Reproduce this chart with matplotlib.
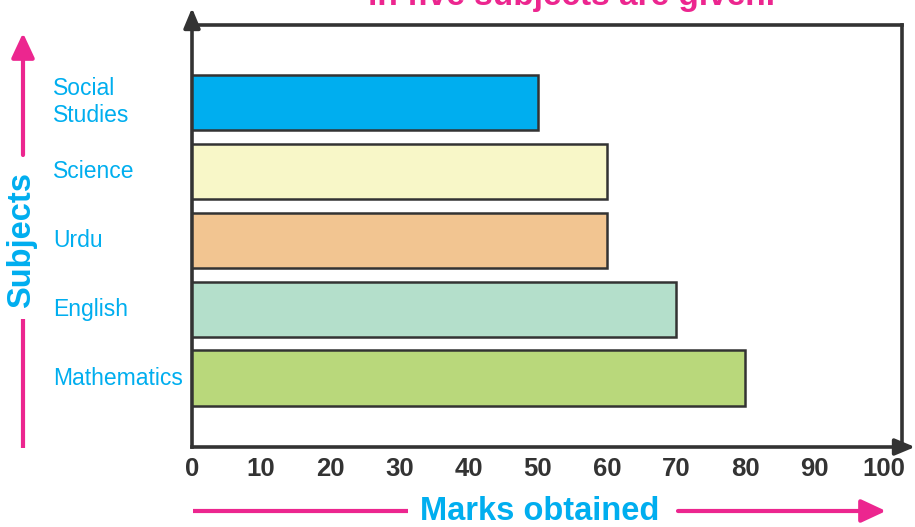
import matplotlib
matplotlib.use("Agg")
import matplotlib.pyplot as plt
from matplotlib import font_manager
from matplotlib.patches import FancyArrowPatch
from matplotlib.transforms import blended_transform_factory

subjects = ["Mathematics", "English", "Urdu", "Science", "Social\nStudies"]
marks = [80, 70, 60, 60, 50]
bar_colors = ["#B9D87B", "#B4DFCB", "#F2C591", "#F8F7C8", "#00AEEF"]
xticks = [0, 10, 20, 30, 40, 50, 60, 70, 80, 90, 100]
title_text = "in five subjects are given."
xlabel_text = "Marks obtained"
ylabel_text = "Subjects"

W, H = 915, 527
CYAN = "#00AEEF"
PINK = "#EC268F"
DARK = "#333333"

names = {f.name for f in font_manager.fontManager.ttflist}
base = "Liberation Sans" if "Liberation Sans" in names else "DejaVu Sans"
narrow = "Liberation Sans Narrow" if "Liberation Sans Narrow" in names else base
plt.rcParams["font.family"] = [base, "DejaVu Sans"]

fig = plt.figure(figsize=(W / 100, H / 100), dpi=100)

def fx(px):
    return px / W

def fy(py):
    return 1 - py / H

ax = fig.add_axes([fx(192), fy(447), fx(902) - fx(192), fy(25) - fy(447)])
ypos = list(range(len(subjects)))
ax.barh(ypos, marks, height=0.8, color=bar_colors, edgecolor=DARK, linewidth=1.8, zorder=3)
ax.set_xlim(0, 102.7)
ax.set_ylim(-1.0, 5.12)
ax.set_xticks(xticks)
ax.set_xticklabels([str(t) for t in xticks], fontsize=18.5, fontweight="bold",
                   color=DARK, family=[narrow, "DejaVu Sans"])
ax.tick_params(axis="x", length=0, pad=7)
ax.set_yticks([])
for s in ax.spines.values():
    s.set_color(DARK)
    s.set_linewidth(2.6)

# category labels
lbl_tr = blended_transform_factory(fig.transFigure, ax.transData)
for y, name in zip(ypos, subjects):
    ax.text(fx(53), y, name, transform=lbl_tr,
            ha="left", va="center", fontsize=16.5, color=CYAN, linespacing=1.22)

def arrow(p0, p1, color, lw, head_w, head_l):
    a = FancyArrowPatch((fx(p0[0]), fy(p0[1])), (fx(p1[0]), fy(p1[1])),
                        transform=fig.transFigure,
                        arrowstyle=f"-|>,head_width={head_w},head_length={head_l}",
                        color=color, lw=lw, shrinkA=0, shrinkB=0, mutation_scale=1)
    fig.add_artist(a)

def line(p0, p1, color, lw):
    fig.add_artist(plt.Line2D([fx(p0[0]), fx(p1[0])], [fy(p0[1]), fy(p1[1])],
                              transform=fig.transFigure, color=color, lw=lw,
                              solid_capstyle="butt"))

# axis arrows
arrow((192, 26), (192, 8), DARK, 2.6, 5, 12)
arrow((901, 447), (915, 447), DARK, 2.6, 5, 12)

# y label with pink arrow
fig.text(fx(22), fy(240), ylabel_text, rotation=90, ha="center", va="center",
         fontsize=23.5, fontweight="bold", color=CYAN)
line((23, 448), (23, 319), PINK, 3)
arrow((23, 155), (23, 33), PINK, 3, 7, 15)

# x label with pink arrow
fig.text(fx(540), fy(512), xlabel_text, ha="center", va="center",
         fontsize=23.5, fontweight="bold", color=CYAN)
line((193, 511), (408, 511), PINK, 3)
arrow((678, 511), (886, 511), PINK, 3, 7, 15)

# title (cut off at the top edge, as in the reference)
fig.text(fx(571), fy(5), title_text, ha="center", va="baseline",
         fontsize=24, fontweight="bold", color=PINK)

fig.savefig("out.png", dpi=100)
